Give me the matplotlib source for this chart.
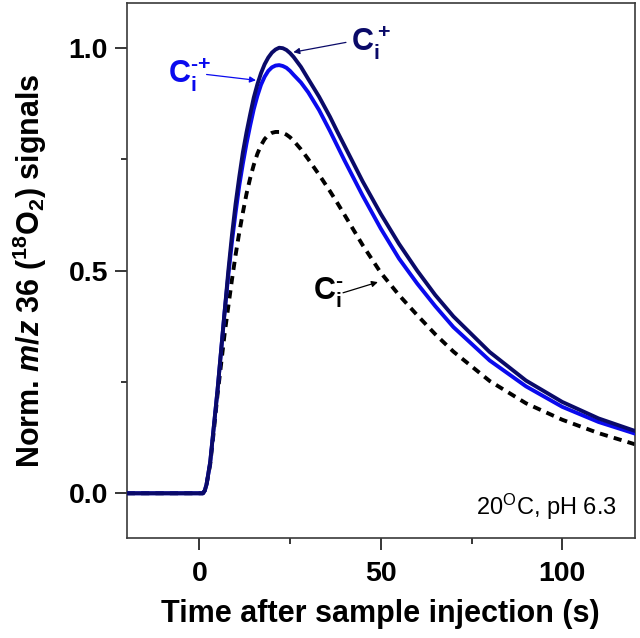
import matplotlib
matplotlib.use("Agg")
import matplotlib.pyplot as plt
from matplotlib.ticker import MultipleLocator, FormatStrFormatter

# ── data ─────────────────────────────────────────────────────────────────────
time_s = [-20, 0, 1, 1.5, 2, 3, 4, 5, 6, 7, 8, 9, 10, 11, 12, 13, 14, 15, 16,
          17, 18, 19, 20, 21, 22, 23, 24, 25, 26, 28, 30, 33, 36, 38, 40, 45,
          50, 55, 60, 65, 70, 80, 90, 100, 110, 120]

ci_plus = [0, 0, 0, 0.006, 0.02, 0.07, 0.15, 0.23, 0.32, 0.41, 0.50, 0.58,
           0.65, 0.71, 0.765, 0.81, 0.85, 0.888, 0.918, 0.943, 0.963, 0.978,
           0.989, 0.996, 1.0, 0.999, 0.995, 0.988, 0.979, 0.957, 0.93, 0.89,
           0.845, 0.812, 0.78, 0.70, 0.627, 0.56, 0.50, 0.445, 0.397, 0.317,
           0.253, 0.205, 0.168, 0.14]

ci_minus_plus = [0, 0, 0, 0.006, 0.02, 0.07, 0.15, 0.23, 0.32, 0.41, 0.49,
                 0.565, 0.63, 0.69, 0.74, 0.785, 0.825, 0.862, 0.892, 0.917,
                 0.935, 0.948, 0.956, 0.96, 0.961, 0.959, 0.955, 0.948,
                 0.939, 0.922, 0.9, 0.86, 0.813, 0.78, 0.747, 0.668,
                 0.594, 0.527, 0.471, 0.42, 0.373, 0.298, 0.24, 0.194, 0.16,
                 0.134]

ci_minus = [0, 0, 0, 0.006, 0.02, 0.065, 0.14, 0.22, 0.29, 0.36, 0.42, 0.48,
            0.535, 0.585, 0.63, 0.672, 0.707, 0.737, 0.762, 0.781, 0.795,
            0.804, 0.809, 0.811, 0.811, 0.809, 0.805, 0.799, 0.791, 0.772,
            0.75, 0.715, 0.678, 0.652, 0.625, 0.557, 0.495, 0.445, 0.40,
            0.357, 0.318, 0.252, 0.202, 0.165, 0.135, 0.11]

NAVY = "#0a0a68"
BLUE = "#0a0aee"

# ── fonts ────────────────────────────────────────────────────────────────────
plt.rcParams["font.family"] = ["Liberation Sans", "DejaVu Sans"]
plt.rcParams["mathtext.fontset"] = "custom"
plt.rcParams["mathtext.rm"] = "Liberation Sans:bold"
plt.rcParams["mathtext.it"] = "Liberation Sans:italic:bold"
plt.rcParams["mathtext.bf"] = "Liberation Sans:bold"
plt.rcParams["mathtext.sf"] = "Liberation Sans"

fig = plt.figure(figsize=(6.4, 6.38), dpi=100)
ax = fig.add_axes([0.198, 0.157, 0.794, 0.838])

ax.plot(time_s, ci_minus, color="black", lw=2.8, ls=(0, (2.1, 1.6)), zorder=2)
ax.plot(time_s, ci_minus_plus, color=BLUE, lw=2.8, zorder=3)
ax.plot(time_s, ci_plus, color=NAVY, lw=2.8, zorder=4)

ax.set_xlim(-20, 120)
ax.set_ylim(-0.1, 1.1)
ax.xaxis.set_major_locator(MultipleLocator(50))
ax.xaxis.set_minor_locator(MultipleLocator(25))
ax.yaxis.set_major_locator(MultipleLocator(0.5))
ax.yaxis.set_minor_locator(MultipleLocator(0.25))
ax.yaxis.set_major_formatter(FormatStrFormatter("%.1f"))
ax.tick_params(which="major", direction="out", length=8.5, width=1.1,
               labelsize=20.5)
ax.tick_params(axis="x", which="major", pad=8)
ax.tick_params(axis="y", which="major", pad=5)
ax.tick_params(which="minor", direction="out", length=4.3, width=1.1)
for lbl in ax.get_xticklabels() + ax.get_yticklabels():
    lbl.set_fontweight("bold")
for sp in ax.spines.values():
    sp.set_linewidth(1.2)
    sp.set_color("#3a3a3a")

ax.set_xlabel("Time after sample injection (s)", fontsize=22,
              fontweight="bold", labelpad=9)
ax.set_ylabel(r"Norm. $\mathit{m/z}$ 36 ($^{\mathbf{18}}$O$_{\mathbf{2}}$) signals",
              fontsize=22, fontweight="bold", labelpad=14)

# ── annotations ──────────────────────────────────────────────────────────────
arrow = dict(arrowstyle="-|>", lw=0.9, mutation_scale=9, shrinkA=0, shrinkB=0)

ax.annotate("", xy=(25.9, 0.99), xytext=(40.4, 1.012),
            arrowprops=dict(arrow, color=NAVY))
ax.text(41.9, 0.994, r"$\mathbf{C_i^+}$", color=NAVY, fontsize=22,
        ha="left", va="baseline")

ax.annotate("", xy=(15.6, 0.927), xytext=(2.0, 0.94),
            arrowprops=dict(arrow, color=BLUE))
ax.text(-8.6, 0.922, r"$\mathbf{C_i^{\text{-+}}}$", color=BLUE, fontsize=22,
        ha="left", va="baseline")

ax.annotate("", xy=(49.2, 0.474), xytext=(39.6, 0.45),
            arrowprops=dict(arrow, color="black"))
ax.text(31.4, 0.434, r"$\mathbf{C_i^{\text{-}}}$", color="black", fontsize=22,
        ha="left", va="baseline")

ax.text(0.965, 0.043, r"20$^{\mathsf{O}}$C, pH 6.3", transform=ax.transAxes,
        ha="right", va="baseline", fontsize=17)

fig.savefig("out.png", dpi=100)
